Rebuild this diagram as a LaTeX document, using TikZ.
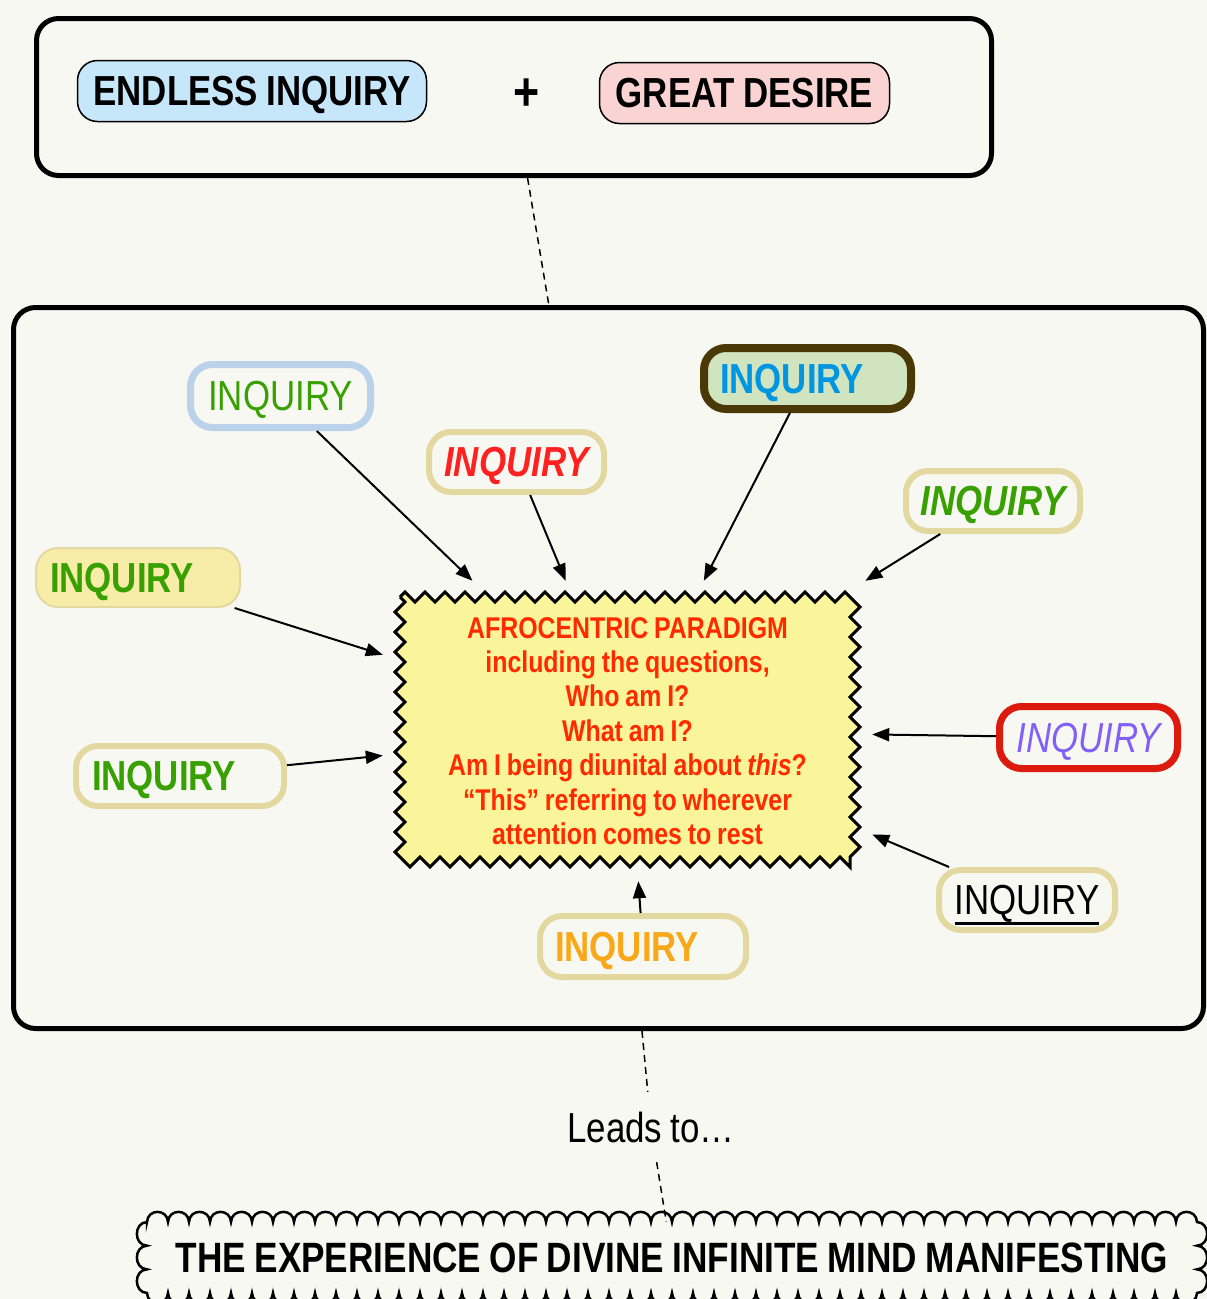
\documentclass[tikz,border=0pt]{standalone}
\usepackage{fontspec}
\setmainfont{Liberation Sans}[FakeStretch=0.83,WordSpace=0.85]
\usetikzlibrary{arrows.meta,decorations.pathmorphing}
\newcommand\myuline[1]{\setbox0\hbox{#1}\rlap{\rule[-10pt]{\wd0}{2.5pt}}\box0}
\definecolor{bgcol}{HTML}{F8F8F3}
\definecolor{pillblue}{HTML}{C6E6FA}
\definecolor{pillpink}{HTML}{FAD3D3}
\definecolor{zigyellow}{HTML}{FAF59A}
\definecolor{ctred}{HTML}{FF2A00}
\definecolor{qgreen}{HTML}{38A000}
\definecolor{qred}{HTML}{FF2020}
\definecolor{qblue}{HTML}{0095E0}
\definecolor{qpurple}{HTML}{8060F8}
\definecolor{qorange}{HTML}{F8A818}
\definecolor{khaki}{HTML}{E3D9A0}
\definecolor{lbborder}{HTML}{BAD3EA}
\definecolor{brownb}{HTML}{4A3806}
\definecolor{greenfill}{HTML}{CFE4BF}
\definecolor{lyfill}{HTML}{F7ECA8}
\definecolor{redb}{HTML}{DD1A0E}
\begin{document}
\begin{tikzpicture}[x=1pt,y=-1pt,
  bigbox/.style={draw, line width=5pt, rounded corners=22pt, inner sep=0pt},
  pill/.style={draw, line width=1.5pt, rounded corners=20pt, inner sep=0pt, text depth=0pt,
    font=\fontsize{42}{42}\selectfont\bfseries},
  inq/.style={rounded corners=22pt, inner sep=0pt, text depth=0pt,
    font=\fontsize{42}{42}\selectfont},
  arr/.style={-{Triangle[length=17pt,width=13pt]}, line width=2pt},
  dashline/.style={dash pattern=on 7pt off 5pt, line width=1.5pt}]
\useasboundingbox (0,0) rectangle (1207,1299);
\fill[bgcol] (0,0) rectangle (1207,1299);
\clip (0,0) rectangle (1207,1299);

% top box
\node[bigbox, minimum width=955pt, minimum height=157pt] (top) at (514,97) {};
\node[pill, fill=pillblue, minimum width=349pt, minimum height=61pt] (endless) at (252,91) {ENDLESS INQUIRY};
\node[font=\fontsize{54}{54}\selectfont\bfseries, inner sep=0pt, text depth=0pt] (plus) at (527,95) {+};
\node[pill, fill=pillpink, minimum width=290pt, minimum height=61pt] (great) at (744.5,93) {GREAT DESIRE};

% middle box
\node[bigbox, minimum width=1190pt, minimum height=721pt] (mid) at (608.5,668) {};

% central zigzag
\draw[decorate, decoration={zigzag, segment length=20pt, amplitude=5pt}, line width=3pt, fill=zigyellow]
  (400,597) -- (855,597) -- (855,862) -- (400,862) -- cycle;
\node[align=center, inner sep=0pt, minimum width=489pt, minimum height=300pt,
  font=\fontsize{30}{34.4}\selectfont\bfseries, text=ctred] (c) at (627.5,731)
  {AFROCENTRIC PARADIGM\\ including the questions,\\ Who am I?\\ What am I?\\ Am I being diunital about \textit{this}?\\ “This” referring to wherever\\ attention comes to rest};

% inquiry nodes
\node[inq, draw=lbborder, line width=7pt, minimum height=63pt, text width=180pt, align=center, text=qgreen] (q1) at (280.5,396) {INQUIRY};
\node[inq, draw=khaki, line width=6pt, minimum height=60pt, text width=175pt, align=center, text=qred, font=\fontsize{42}{42}\selectfont\bfseries\itshape] (q2) at (516.5,462) {INQUIRY};
\node[inq, draw=brownb, fill=greenfill, line width=8pt, minimum height=61pt, text width=207pt, align=left, text=qblue, font=\fontsize{42}{42}\selectfont\bfseries] (q3) at (807.5,378.5) {\hspace*{16pt}INQUIRY};
\node[inq, draw=khaki, line width=6pt, minimum height=60pt, text width=174pt, align=center, text=qgreen, font=\fontsize{42}{42}\selectfont\bfseries\itshape] (q4) at (993,501) {INQUIRY};
\node[inq, draw=khaki, fill=lyfill, line width=2pt, minimum height=59pt, text width=204pt, align=left, text=qgreen, font=\fontsize{42}{42}\selectfont\bfseries] (q5) at (138,577.5) {\hspace*{14pt}INQUIRY};
\node[inq, draw=khaki, line width=6pt, minimum height=60pt, text width=208pt, align=left, text=qgreen, font=\fontsize{42}{42}\selectfont\bfseries] (q6) at (180,776) {\hspace*{16pt}INQUIRY};
\node[inq, draw=redb, line width=7pt, minimum height=62pt, text width=178pt, align=center, text=qpurple, font=\fontsize{42}{42}\selectfont\itshape] (q7) at (1088.5,737.5) {INQUIRY};
\node[inq, draw=khaki, line width=6pt, minimum height=60pt, text width=176pt, align=center, text=black] (q8) at (1027,900) {\myuline{INQUIRY}};
\node[inq, draw=khaki, line width=6pt, minimum height=61pt, text width=206pt, align=left, text=qorange, font=\fontsize{42}{42}\selectfont\bfseries] (q9) at (643,946.5) {\hspace*{15pt}INQUIRY};

% arrows
\foreach \n in {q1,q2,q3,q4,q5,q6,q7,q8,q9}
  \draw[arr] (\n) -- (c);

% leads to and bottom cloud
\node[font=\fontsize{42}{42}\selectfont, minimum height=70pt, inner sep=0pt, text depth=0pt] (leads) at (651,1127) {Leads to…};
\draw[line width=2.5pt, fill=bgcol] (147,1222)
  \foreach \i in {0,...,49} { .. controls ({147+21*\i+0.5},1208.5) and ({147+21*\i+20.5},1208.5) .. ({147+21*(\i+1)},1222) }
  \foreach \i in {0,1,2} { .. controls (1210.5,{1222+23.667*\i+0.5}) and (1210.5,{1222+23.667*\i+23.2}) .. (1197,{1222+23.667*(\i+1)}) }
  \foreach \i in {0,...,49} { .. controls ({1197-21*\i-0.5},1306.5) and ({1197-21*\i-20.5},1306.5) .. ({1197-21*(\i+1)},1293) }
  \foreach \i in {0,1,2} { .. controls (133.5,{1293-23.667*\i-0.5}) and (133.5,{1293-23.667*\i-23.2}) .. (147,{1293-23.667*(\i+1)}) }
  -- cycle;
\node[font=\fontsize{42.4}{42.4}\selectfont\bfseries, minimum width=1050pt, minimum height=71pt, inner sep=0pt, text depth=0pt] (cloud) at (672,1257.5) {THE EXPERIENCE OF DIVINE INFINITE MIND MANIFESTING};

% dashed connectors
\draw[dashline] (top) -- (mid);
\draw[dashline] (mid) -- (leads);
\draw[dashline] (leads) -- (cloud);
\end{tikzpicture}
\end{document}
